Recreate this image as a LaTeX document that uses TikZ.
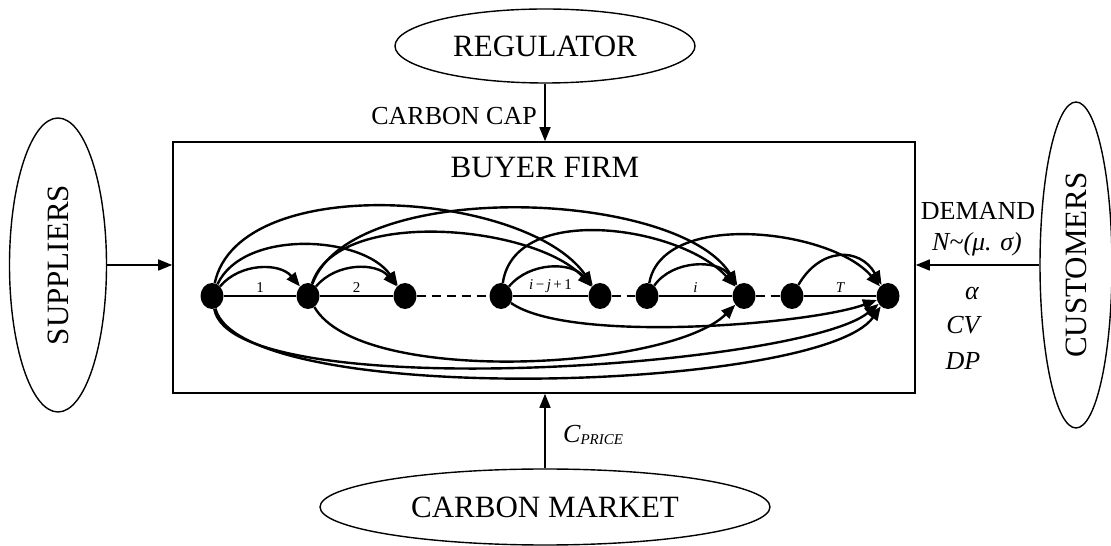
\documentclass[tikz,border=0pt]{standalone}
\usepackage{fontspec}
\setmainfont{Liberation Serif}
\usepackage{graphicx}
\usetikzlibrary{arrows.meta,positioning,shapes.geometric}

\newcommand{\bigfont}{\fontsize{31}{36}\selectfont}
\newcommand{\midfont}{\fontsize{26}{30}\selectfont}

\begin{document}
\begin{tikzpicture}[x=1pt, y=1pt, auto,
  main node/.style={ellipse,fill=black,minimum width=23pt,minimum height=26pt,inner sep=0pt},
  outer node/.style={ellipse,draw,line width=1.4pt,inner sep=0pt,font=\bigfont},
  flow/.style={-{Triangle[length=14pt,width=11pt]},line width=1.6pt},
  arc/.style={-{Triangle[length=14pt,width=11pt]},line width=2.4pt},
  link/.style={line width=2.2pt},
  gap/.style={line width=2.2pt,dash pattern=on 9pt off 6pt},
  lbl/.style={font=\fontsize{15}{17}\selectfont,inner sep=2pt}]
\useasboundingbox (0,0) rectangle (1111,546);
% surroundings
\node[draw,line width=1.6pt,minimum width=742pt,minimum height=251pt] (firm) at (544,278.5) {};
\node[anchor=base,font=\bigfont] (title) at (545,368) {BUYER FIRM};
\node[outer node,minimum width=300pt,minimum height=74pt] (reg) at (545,500) {REGULATOR};
\node[outer node,minimum width=450pt,minimum height=76pt] (mkt) at (545,39) {CARBON MARKET};
\node[outer node,minimum width=97pt,minimum height=294pt] (sup) at (58,281) {\rotatebox{90}{SUPPLIERS}};
\node[outer node,minimum width=72pt,minimum height=326pt] (cus) at (1076,281) {\rotatebox{90}{CUSTOMERS}};
\begin{scope}[every node/.style={font=\midfont,inner sep=0pt}]
\node[anchor=east] (cap) at (537,430) {CARBON CAP};
\node (dem) at (978,335) {DEMAND};
\node (dist) at (977,302) {\itshape N\char`\~(μ. σ)};
\node (alpha) at (972,252) {\itshape α};
\node (cv) at (963,221) {\itshape CV};
\node (dp) at (963,185) {\itshape DP};
\node[anchor=west] (price) at (563,111) {\itshape C\raisebox{-2pt}{\fontsize{15}{17}\selectfont PRICE}};
\end{scope}
\draw[flow] (reg.south) -- (reg.south |- firm.north);
\draw[flow] (mkt.north) -- (mkt.north |- firm.south);
\draw[flow] (sup.east) -- (sup.east -| firm.west);
\draw[flow] (cus.west) -- (cus.west -| firm.east);
% periods
\node[main node] (n1) at (212,250) {};
\node[main node] (n2) at (308,250) {};
\node[main node] (n3) at (405,250) {};
\node[main node] (n4) at (501,250) {};
\node[main node] (n5) at (600,250) {};
\node[main node] (n6) at (647,250) {};
\node[main node] (n7) at (744,250) {};
\node[main node] (n8) at (792,250) {};
\node[main node] (n9) at (888,250) {};
\begin{scope}
\draw[link] (n1) edge node[lbl]{1} (n2);
\draw[link] (n2) edge node[lbl]{2} (n3);
\draw[gap] (n3) -- (n4);
\draw[link] (n4) edge node[lbl]{\itshape i\,\upshape−\,\itshape j\,\upshape+\,1} (n5);
\draw[gap] (n5) -- (n6);
\draw[link] (n6) edge node[lbl]{\itshape i} (n7);
\draw[gap] (n7) -- (n8);
\draw[link] (n8) edge node[lbl]{\itshape T} (n9);
\end{scope}
\begin{scope}
% arcs above
\draw[arc] (n1) to[bend left=50] (n2);
\draw[arc] (n2) to[bend left=50] (n3);
\draw[arc] (n4) to[bend left=50] (n5);
\draw[arc] (n6) to[bend left=55] (n7);
\draw[arc] (n8) to[bend left=60,looseness=1.35] (n9);
\draw[arc] (n1) to[out=65,in=125,looseness=0.87] (n3);
\draw[arc] (n1) to[out=78,in=125,looseness=0.78] (n5);
\draw[arc] (n2) to[out=72,in=132,looseness=0.75] (n5);
\draw[arc] (n2) to[out=70,in=122,looseness=0.68] (n7);
\draw[arc] (n4) to[out=82,in=132,looseness=0.9] (n7);
\draw[arc] (n6) to[out=80,in=130,looseness=0.83] (n9);
% arcs below
\draw[arc] (n4) to[out=-35,in=-160,looseness=0.5] (n9);
\draw[arc] (n2) to[out=-60,in=-135,looseness=0.56] (n7);
\draw[arc] (n1) to[out=-80,in=-140,looseness=0.38] (n9);
\draw[arc] (n1) to[out=-75,in=-125,looseness=0.40] (n9);
\end{scope}
\end{tikzpicture}
\end{document}
